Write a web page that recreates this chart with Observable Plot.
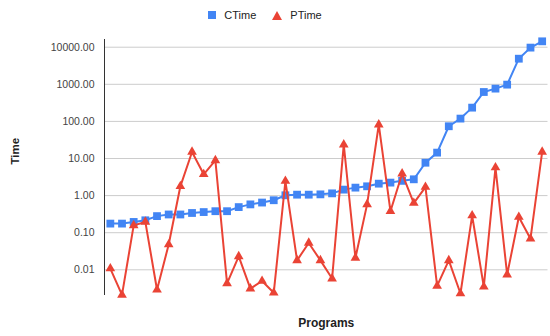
<!DOCTYPE html>
<html><head><meta charset="utf-8">
<script src="https://cdn.jsdelivr.net/npm/d3@7"></script>
<script src="https://cdn.jsdelivr.net/npm/@observablehq/plot@0.6"></script>
<style>
body{margin:0;background:#fff;font-family:Arial,"Liberation Sans",sans-serif;}
#legend{height:30px;display:flex;justify-content:center;align-items:center;padding-right:20px;box-sizing:border-box;font-size:11px;color:#222;}
.sq{width:8px;height:8px;background:#4285F4;margin-right:8px;}
.tri{width:0;height:0;border-left:5px solid transparent;border-right:5px solid transparent;border-bottom:9px solid #EA4335;margin-right:8px;margin-left:16px;}
#chart svg{display:block;}
</style></head><body>
<div id="legend"><div class="sq"></div><span>CTime</span><div class="tri"></div><span>PTime</span></div>
<div id="chart"></div>
<script>
const programs = d3.range(1, 39);
const cTime = [0.176,0.176,0.195,0.216,0.28,0.31,0.31,0.34,0.36,0.38,0.38,0.49,0.58,0.65,0.75,1.02,1.06,1.06,1.08,1.15,1.45,1.64,1.78,2.1,2.24,2.5,2.75,7.7,14.4,74,119,235,620,765,980,4900,9750,14400];
const pTime = [0.0108,0.0021,0.158,0.195,0.0029,0.048,1.78,15,3.75,8.9,0.0043,0.023,0.0031,0.005,0.0024,2.47,0.018,0.053,0.018,0.0058,23.7,0.021,0.58,82,0.38,3.9,0.63,1.7,0.0037,0.018,0.0023,0.29,0.0035,5.7,0.0074,0.265,0.069,15];
const yTicks = [0.01, 0.1, 1, 10, 100, 1000, 10000];

const rows = programs.map((p, i) => ({program: p, cTime: cTime[i], pTime: pTime[i]}));

const chart = Plot.plot({
  width: 550,
  height: 306,
  marginTop: 9,
  marginBottom: 41,
  marginLeft: 104,
  marginRight: 2.5,
  style: {fontFamily: "Arial, 'Liberation Sans', sans-serif", fontSize: "10.5px", background: "#fff"},
  x: {type: "linear", domain: [0.5, 38.5], axis: null},
  y: {type: "log", domain: [0.00203, 16130], axis: null},
  marks: [
    Plot.ruleY(yTicks, {stroke: "#ccc", strokeWidth: 1}),
    Plot.axisY({ticks: yTicks, tickFormat: d3.format(".2f"), tickSize: 0, tickPadding: 10, label: null, fill: "#444"}),
    Plot.ruleX([0.5], {stroke: "#333", strokeWidth: 1}),
    Plot.line(rows, {x: "program", y: "cTime", stroke: "#4285F4", strokeWidth: 2}),
    Plot.dot(rows, {x: "program", y: "cTime", symbol: "square", r: 4.4, fill: "#4285F4", stroke: "none"}),
    Plot.line(rows, {x: "program", y: "pTime", stroke: "#EA4335", strokeWidth: 2}),
    Plot.dot(rows, {x: "program", y: "pTime", symbol: "triangle", r: 3.6, fill: "#EA4335", stroke: "none"}),
    Plot.text(["Programs"], {text: d => d, frameAnchor: "bottom", dy: 31, fontWeight: "bold", fontSize: 12, fill: "#222"}),
    Plot.text(["Time"], {text: d => d, frameAnchor: "left", dx: -89, dy: -3, rotate: -90, fontWeight: "bold", fontSize: 11.5, fill: "#222"})
  ]
});
document.getElementById("chart").appendChild(chart);
</script>
</body></html>
